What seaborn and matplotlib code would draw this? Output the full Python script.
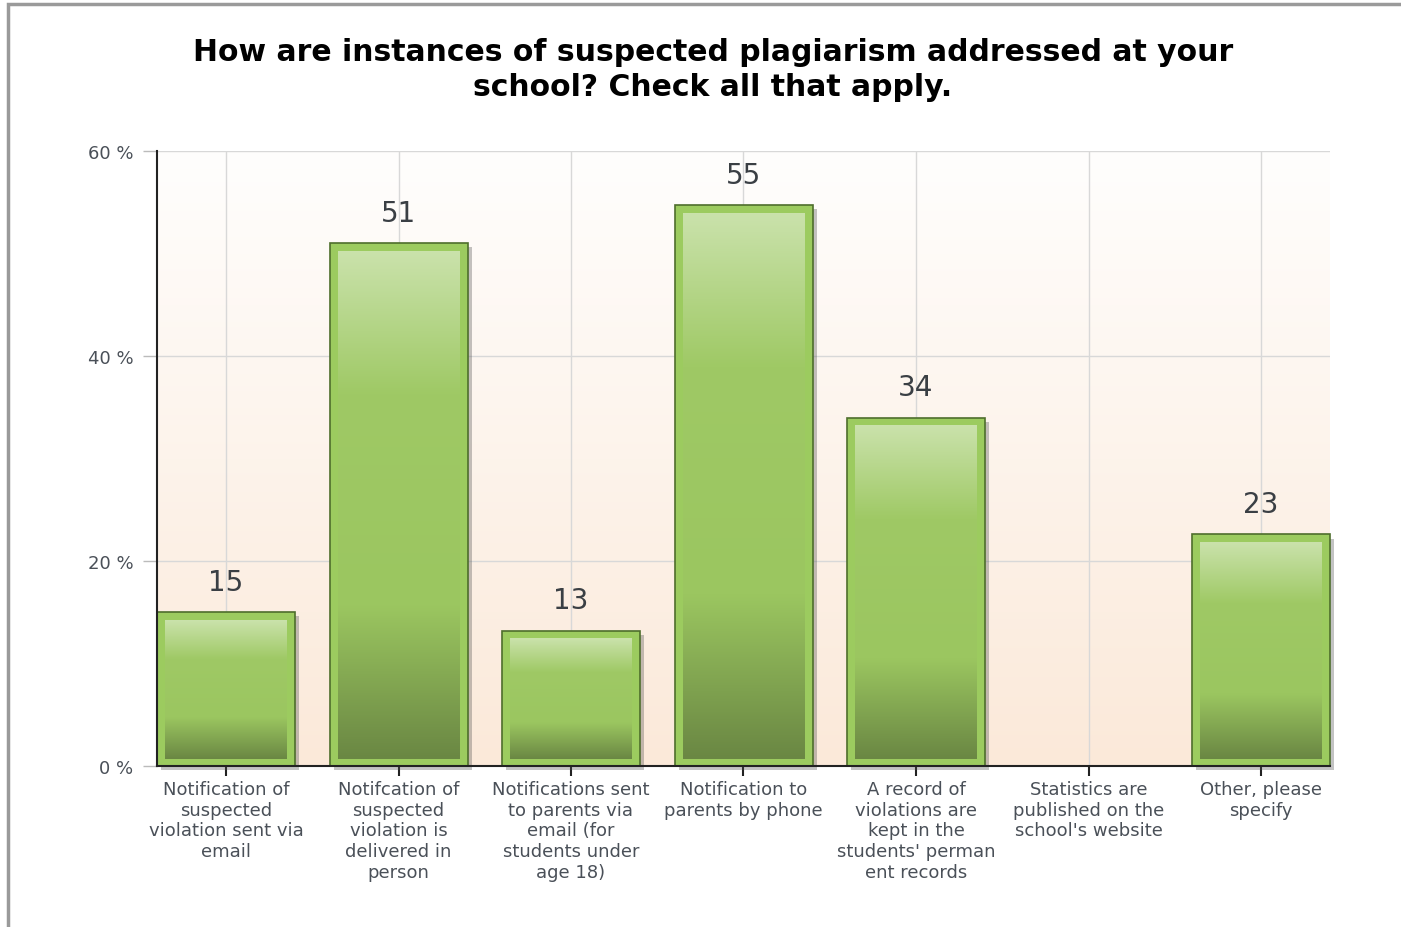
import numpy as np
import pandas as pd
import seaborn as sns
import matplotlib.pyplot as plt
import matplotlib.patheffects as pe
from matplotlib.colors import LinearSegmentedColormap
from matplotlib.patches import Rectangle

answers = [
    'Notification of\nsuspected\nviolation sent via\nemail',
    'Notifcation of\nsuspected\nviolation is\ndelivered in\nperson',
    'Notifications sent\nto parents via\nemail (for\nstudents under\nage 18)',
    'Notification to\nparents by phone',
    "A record of\nviolations are\nkept in the\nstudents' perman\nent records",
    "Statistics are\npublished on the\nschool's website",
    'Other, please\nspecify',
]
percent = [15.0, 51.0, 13.2, 54.7, 34.0, 0.0, 22.6]
y_ticks = [0, 20, 40, 60]
y_tick_labels = ['0 %', '20 %', '40 %', '60 %']

df = pd.DataFrame({'answer': answers, 'percent': percent})

fig = plt.figure(figsize=(14.01, 9.28), dpi=100)
ax = fig.add_axes([157 / 1401, 1 - 767 / 928, (1330 - 157) / 1401, (767 - 152) / 928])

sns.barplot(data=df, x='answer', y='percent', color='#9ccb5f', saturation=1,
            edgecolor='#4e6e2c', linewidth=1.2, width=0.8, ax=ax, zorder=2)

# frame around the whole picture
fig.patches.append(Rectangle((8 / 1401, -0.05), 1.2, 1 - 5 / 928 + 0.05, transform=fig.transFigure,
                             fill=False, edgecolor='#9a9a9a', linewidth=2.5))

# background gradient of the plot area
bg = LinearSegmentedColormap.from_list('bg', ['#fbe9d9', '#fffefd'])
ax.imshow(np.linspace(0, 1, 256).reshape(-1, 1), cmap=bg, origin='lower', aspect='auto',
          extent=(0, 1, 0, 1), transform=ax.transAxes, zorder=0.1)

bar_cmap = LinearSegmentedColormap.from_list(
    'bar', [(0, '#6a8743'), (0.3, '#9bc660'), (0.72, '#9fc965'), (1, '#cae2ab')])
px_x = 6.8 / 1173
px_y = 60 / 615
grad = np.linspace(0, 1, 256).reshape(-1, 1)
for p in ax.patches:
    h = p.get_height()
    if h <= 0:
        p.set_visible(False)
        continue
    p.set_clip_on(False)
    p.set_path_effects([pe.SimplePatchShadow(offset=(3, -3), shadow_rgbFace='#555555', alpha=0.35),
                        pe.Normal()])
    x0, w = p.get_x(), p.get_width()
    ax.imshow(grad, cmap=bar_cmap, origin='lower', aspect='auto', zorder=2.1,
              extent=(x0 + 8 * px_x, x0 + w - 8 * px_x, 7 * px_y, h - 8 * px_y))
    ax.annotate(f'{round(h)}', (p.get_x() + w / 2, h), xytext=(0, 16), textcoords='offset points',
                ha='center', va='baseline', fontsize=20, color='#3a3f44')

ax.set_xlim(-0.4, 6.4)
ax.set_ylim(0, 60)
ax.set_yticks(y_ticks)
ax.set_yticklabels(y_tick_labels)
ax.set_xlabel('')
ax.set_ylabel('')

ax.grid(True, color='#d8d8d8', linewidth=1)
ax.set_axisbelow(True)
for s in ['top', 'right']:
    ax.spines[s].set_visible(False)
for s in ['left', 'bottom']:
    ax.spines[s].set_color('#222222')
    ax.spines[s].set_linewidth(1.5)
    ax.spines[s].set_zorder(3)

ax.tick_params(axis='y', direction='out', length=10, width=1, color='#bbbbbb', pad=7,
               labelsize=13, labelcolor='#4a5058')
ax.tick_params(axis='x', direction='out', length=7, width=1.5, color='#222222', pad=3,
               labelsize=13, labelcolor='#4a5058')
for lbl in ax.get_xticklabels():
    lbl.set_linespacing(1.19)

fig.text(713 / 1401, 1 - 70 / 928,
         'How are instances of suspected plagiarism addressed at your\nschool? Check all that apply.',
         ha='center', va='center', fontsize=21.5, fontweight='bold', family='DejaVu Sans',
         linespacing=1.23, color='black')

fig.savefig('out.png', dpi=100)
